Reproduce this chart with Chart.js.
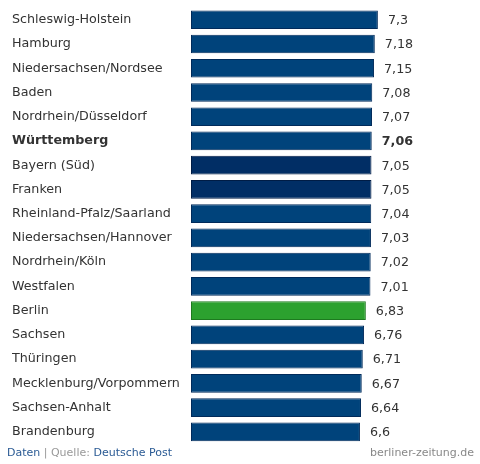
<!DOCTYPE html>
<html><head><meta charset="utf-8">
<script src="https://cdn.jsdelivr.net/npm/chart.js@4/dist/chart.umd.min.js"></script>
<style>html,body{margin:0;padding:0;background:#fff}#wrap{width:480px;height:464px}</style>
</head><body><div id="wrap"><canvas id="c" width="480" height="464"></canvas></div>
<script>
const categories = ["Schleswig-Holstein","Hamburg","Niedersachsen/Nordsee","Baden","Nordrhein/Düsseldorf","Württemberg","Bayern (Süd)","Franken","Rheinland-Pfalz/Saarland","Niedersachsen/Hannover","Nordrhein/Köln","Westfalen","Berlin","Sachsen","Thüringen","Mecklenburg/Vorpommern","Sachsen-Anhalt","Brandenburg"];
const values = [7.3,7.18,7.15,7.08,7.07,7.06,7.05,7.05,7.04,7.03,7.02,7.01,6.83,6.76,6.71,6.67,6.64,6.6];
const valueLabels = ["7,3","7,18","7,15","7,08","7,07","7,06","7,05","7,05","7,04","7,03","7,02","7,01","6,83","6,76","6,71","6,67","6,64","6,6"];
const highlightIndex = 5;
const darkIndices = [6,7];
const berlinIndex = 12;

const FONT = "'DejaVu Sans', Verdana, sans-serif";
const fills = values.map((v,i)=> i===berlinIndex ? '#2ca12f' : (darkIndices.includes(i) ? '#012e65' : '#00437b'));
const borders = values.map((v,i)=> i===berlinIndex ? '#1d7a1f' : (darkIndices.includes(i) ? '#001c45' : '#002a5a'));

const valuePlugin = {
  id:'valueLabels',
  afterDatasetsDraw(chart){
    const ctx = chart.ctx;
    const meta = chart.getDatasetMeta(0);
    ctx.save();
    ctx.textBaseline='middle';
    ctx.textAlign='left';
    meta.data.forEach((bar,i)=>{
      ctx.font = (i===highlightIndex?'bold ':'')+'12.7px '+FONT;
      ctx.fillStyle = '#333';
      ctx.fillText(valueLabels[i], bar.x + 10, bar.y + 1);
    });
    ctx.restore();
  }
};
const footerPlugin = {
  id:'footer',
  afterDraw(chart){
    const ctx = chart.ctx;
    ctx.save();
    ctx.font = '11px '+FONT;
    ctx.textBaseline='middle';
    let x = 7, y = 453;
    const parts = [["Daten",'#2a5a94'],[" | ",'#999'],["Quelle: ",'#999'],["Deutsche Post",'#2a5a94']];
    parts.forEach(([t,c])=>{ctx.fillStyle=c;ctx.textAlign='left';ctx.fillText(t,x,y);x+=ctx.measureText(t).width;});
    ctx.fillStyle='#888';ctx.textAlign='right';
    ctx.fillText('berliner-zeitung.de',474,y);
    ctx.restore();
  }
};

new Chart(document.getElementById('c'),{
  type:'bar',
  data:{labels:categories,datasets:[{data:values,backgroundColor:fills,borderColor:borders,borderWidth:1,borderSkipped:false,barPercentage:0.77,categoryPercentage:1}]},
  options:{
    indexAxis:'y',responsive:false,animation:false,
    layout:{padding:{left:12,right:33,top:6,bottom:20}},
    plugins:{legend:{display:false},tooltip:{enabled:false}},
    scales:{
      x:{display:false,min:0,max:10},
      y:{
        grid:{display:false},border:{display:false},
        afterFit(s){s.width=179;},
        ticks:{crossAlign:'far',padding:0,color:'#333',
          font:(ctx)=>({family:FONT,size:12.7,weight:ctx.index===highlightIndex?'bold':'normal'})}
      }
    }
  },
  plugins:[valuePlugin,footerPlugin]
});
</script></body></html>
